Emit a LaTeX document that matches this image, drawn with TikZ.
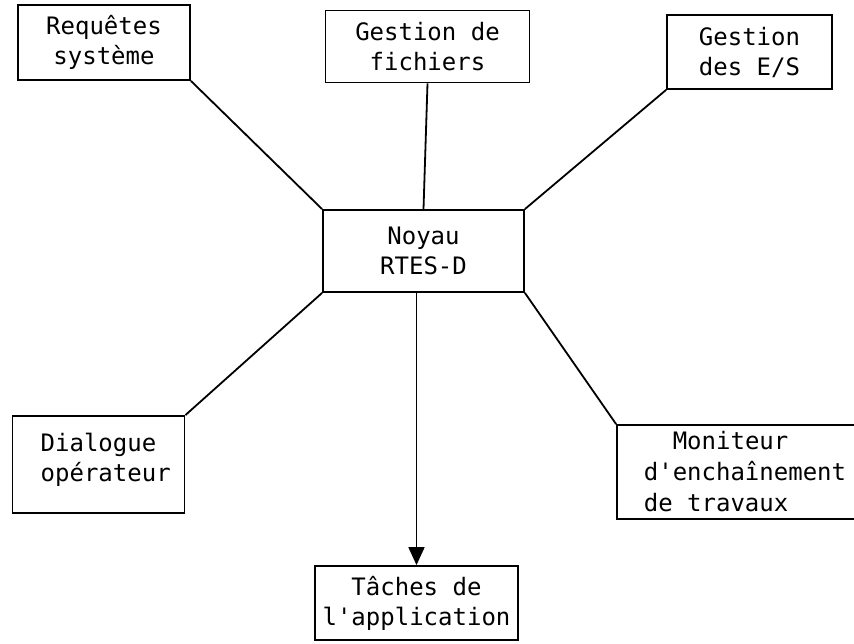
\documentclass[tikz,border=0pt]{standalone}
\usepackage{fontspec}
\setmonofont{DejaVu Sans Mono}
\usetikzlibrary{arrows.meta}

\begin{document}
\begin{tikzpicture}[x=1pt,y=-1pt,>={Triangle[length=18pt,width=16pt]},
	line width=1.8pt,font=\ttfamily\fontsize{24}{30}\selectfont]
	\tikzstyle{box}=[draw,rectangle,inner sep=2pt,align=center]
	\useasboundingbox (0,0) rectangle (854,643);
	\node[box,minimum width=172pt,minimum height=75pt] (req) at (104,42.5) {Requêtes\\système};
	\node[box,minimum width=204pt,minimum height=72pt] (fich) at (427.5,46.5) {Gestion de\\fichiers};
	\node[box,minimum width=165pt,minimum height=74pt] (es) at (749.5,52) {Gestion\\des E/S};
	\node[box,minimum width=201pt,minimum height=82pt] (noyau) at (423.5,251) {Noyau\\RTES-D};
	\node[box,align=left,minimum width=172pt,minimum height=97pt] (dial) at (98.5,464.5)
		{\hphantom{x}Dialogue\\\hphantom{x}opérateur\\[-16pt]\mbox{}};
	\node[box,align=left,minimum width=256pt,minimum height=94pt,
		font=\ttfamily\fontsize{24}{31}\selectfont] (monit) at (745,472)
		{\hphantom{xx}Moniteur\\d'enchaînement\\de travaux};
	\node[box,minimum width=203pt,minimum height=74pt] (tach) at (416.5,603) {Tâches de\\l'application};
	
	\path
		(req.south east)   edge (noyau.north west)
		(fich.south)       edge (noyau.north)
		(es.south west)    edge (noyau.north east)
		(noyau.south west) edge (dial.north east)
		(noyau.south east) edge (monit.north west)
		(tach.north |- noyau.south) edge[->] (tach.north);
\end{tikzpicture}
\end{document}
